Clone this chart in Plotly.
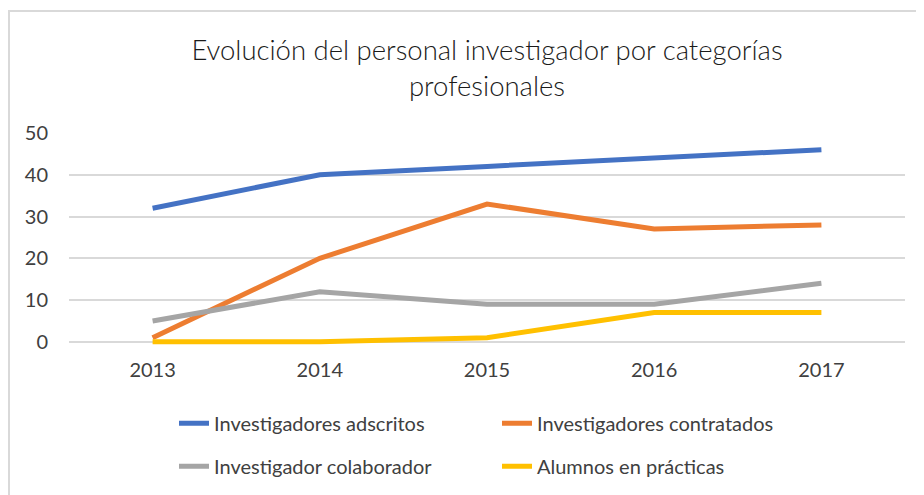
import plotly.graph_objects as go

years = ["2013", "2014", "2015", "2016", "2017"]
adscritos = [32, 40, 42, 44, 46]
contratados = [1, 20, 33, 27, 28]
colaborador = [5, 12, 9, 9, 14]
alumnos = [0, 0, 1, 7, 7]

series = [
    ("Investigadores adscritos", adscritos, "#4472C4", "legend"),
    ("Investigadores contratados", contratados, "#ED7D31", "legend"),
    ("Investigador colaborador", colaborador, "#A5A5A5", "legend2"),
    ("Alumnos en prácticas", alumnos, "#FFC000", "legend2"),
]

W, H = 924, 495
OFF = 8  # page body offset
YMIN, YMAX = -1, 50
PXU = 209 / 50  # pixels per unit
L, T = 69 - OFF, 133 - OFF
pw, ph = 836, PXU * (YMAX - YMIN)
R = W - L - pw
B = H - T - ph

fig = go.Figure()
for name, vals, col, lg in series:
    fig.add_trace(go.Scatter(x=years, y=vals, name=name, mode="lines", legend=lg,
                             cliponaxis=False,
                             line=dict(color=col, width=5), hoverinfo="x+y+name"))


def px(xs):
    return (xs - OFF - L) / pw


def py(ys):
    return (H - B - (ys - OFF)) / ph


legend_common = dict(orientation="h", xanchor="left", yanchor="top",
                     entrywidth=278, entrywidthmode="pixels",
                     font=dict(size=20, color="#404040"), bgcolor="rgba(0,0,0,0)")

fig.update_layout(
    width=W, height=H,
    margin=dict(l=L, r=R, t=T, b=B, autoexpand=False),
    paper_bgcolor="white", plot_bgcolor="white",
    font=dict(family="Lato, 'Open Sans', sans-serif", color="#404040"),
    title=dict(text="Evolución del personal investigador por categorías<br>profesionales",
               x=0.5, xref="paper", xanchor="center", y=1 - 52 / H, yanchor="middle",
               font=dict(size=27.5, color="#1a1a1a", family="Lato, sans-serif", weight=300)),
    xaxis=dict(range=[-0.5, 4.5], showgrid=False, showline=False, zeroline=False, ticks="",
               tickfont=dict(size=20, color="#404040"), ticklabelstandoff=10),
    yaxis=dict(range=[YMIN, YMAX], tick0=0, dtick=10, showgrid=True, gridcolor="#D9D9D9",
               gridwidth=1.5, zeroline=False, showline=False, ticks="",
               tickfont=dict(size=20, color="#404040"), ticklabelstandoff=20),
    showlegend=True,
    legend=dict(x=px(174), y=py(404), **legend_common),
    legend2=dict(x=px(174), y=py(447), **legend_common),
    shapes=[dict(type="rect", xref="paper", yref="paper",
                 x0=px(9), x1=px(940), y0=py(11), y1=py(510),
                 line=dict(color="#D9D9D9", width=2), fillcolor="rgba(0,0,0,0)", layer="below")],
)

fig.write_html("out.html")
